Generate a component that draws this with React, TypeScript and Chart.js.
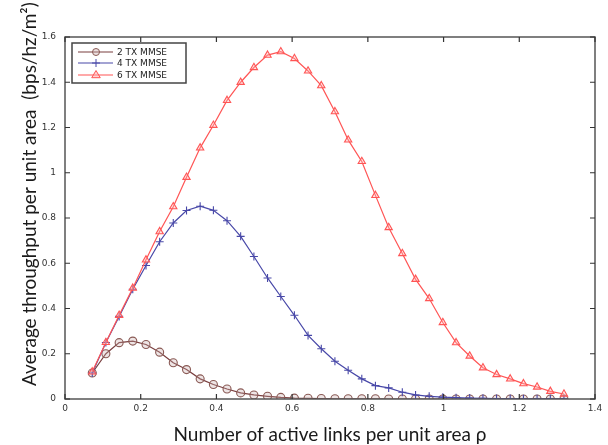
import React, { useEffect, useRef } from "react";
import { Chart, registerables } from "chart.js";

Chart.register(...registerables);

const xValues = [
  0.072, 0.108, 0.143, 0.179, 0.214, 0.25, 0.286, 0.321, 0.357, 0.392, 0.428, 0.464,
  0.499, 0.535, 0.57, 0.606, 0.642, 0.677, 0.713, 0.748, 0.784, 0.82, 0.855, 0.891,
  0.926, 0.962, 0.998, 1.033, 1.069, 1.104, 1.14, 1.176, 1.211, 1.247, 1.282, 1.318,
];

const tx2 = [
  0.115, 0.2, 0.249, 0.256, 0.241, 0.207, 0.16, 0.13, 0.089, 0.064, 0.044, 0.027,
  0.018, 0.012, 0.007, 0.004, 0.003, 0.002, 0.001, 0.001, 0.001, 0.001, 0.0, 0.0,
  0.0, 0.0, 0.0, 0.0, 0.0, 0.0, 0.0, 0.0, 0.0, 0.0, 0.0, 0.0,
];

const tx4 = [
  0.115, 0.25, 0.365, 0.485, 0.59, 0.695, 0.778, 0.833, 0.852, 0.834, 0.788, 0.719,
  0.63, 0.535, 0.453, 0.37, 0.281, 0.222, 0.167, 0.127, 0.089, 0.059, 0.049, 0.03,
  0.018, 0.012, 0.008, 0.006, 0.004, 0.003, 0.002, 0.002, 0.001, 0.001, 0.001, 0.001,
];

const tx6 = [
  0.12, 0.25, 0.37, 0.49, 0.615, 0.74, 0.85, 0.98, 1.11, 1.21, 1.32, 1.4,
  1.465, 1.52, 1.535, 1.505, 1.45, 1.385, 1.27, 1.145, 1.05, 0.9, 0.758, 0.643,
  0.529, 0.444, 0.338, 0.249, 0.19, 0.138, 0.108, 0.089, 0.068, 0.053, 0.034, 0.022,
];

const seriesNames = ["2 TX MMSE", "4 TX MMSE", "6 TX MMSE"];

const xTickValues = [0, 0.2, 0.4, 0.6, 0.8, 1, 1.2, 1.4];
const xTickLabels = ["0", "0.2", "0.4", "0.6", "0.8", "1", "1.2", "1.4"];
const yTickValues = [0, 0.2, 0.4, 0.6, 0.8, 1, 1.2, 1.4, 1.6];
const yTickLabels = ["0", "0.2", "0.4", "0.6", "0.8", "1", "1.2", "1.4", "1.6"];

const xTitle = "Number of active links per unit area \u03c1";
const yTitle = "Average throughput per unit area  (bps/hz/m\u00b2)";

const COLORS = {
  tx2: "#7a3f3f",
  tx2Point: "#8a5a55",
  tx4: "#4848a8",
  tx6: "#ff5555",
};

function drawMarker(ctx: CanvasRenderingContext2D, style: string, x: number, y: number, r: number, stroke: string, fill: string) {
  ctx.save();
  ctx.strokeStyle = stroke;
  ctx.fillStyle = fill;
  ctx.lineWidth = 1;
  ctx.beginPath();
  if (style === "circle") {
    ctx.arc(x, y, r, 0, Math.PI * 2);
    ctx.fill();
    ctx.stroke();
  } else if (style === "cross") {
    ctx.moveTo(x - r, y);
    ctx.lineTo(x + r, y);
    ctx.moveTo(x, y - r);
    ctx.lineTo(x, y + r);
    ctx.stroke();
  } else {
    ctx.moveTo(x, y - r);
    ctx.lineTo(x + r * 0.95, y + r * 0.6);
    ctx.lineTo(x - r * 0.95, y + r * 0.6);
    ctx.closePath();
    ctx.fill();
    ctx.stroke();
  }
  ctx.restore();
}

const decorPlugin = {
  id: "decor",
  afterDraw(chart: any) {
    const { ctx, chartArea } = chart;
    const { left, right, top, bottom } = chartArea;
    const xs = chart.scales.x;
    const ys = chart.scales.y;
    ctx.save();
    // box
    ctx.strokeStyle = "#555";
    ctx.lineWidth = 1.5;
    ctx.strokeRect(left, top, right - left, bottom - top);
    // inward ticks
    ctx.lineWidth = 1.2;
    ctx.strokeStyle = "#333";
    const tl = 5;
    ctx.beginPath();
    xTickValues.forEach((v) => {
      const px = xs.getPixelForValue(v);
      ctx.moveTo(px, bottom);
      ctx.lineTo(px, bottom - tl);
      ctx.moveTo(px, top);
      ctx.lineTo(px, top + tl);
    });
    yTickValues.forEach((v) => {
      const py = ys.getPixelForValue(v);
      ctx.moveTo(left, py);
      ctx.lineTo(left + tl, py);
      ctx.moveTo(right, py);
      ctx.lineTo(right - tl, py);
    });
    ctx.stroke();

    // legend
    const lx = 72, ly = 43, lw = 114, lh = 40;
    ctx.fillStyle = "#fff";
    ctx.fillRect(lx, ly, lw, lh);
    ctx.strokeStyle = "#444";
    ctx.lineWidth = 1.5;
    ctx.strokeRect(lx, ly, lw, lh);
    const rows = [52, 63, 75];
    const styles = [
      { line: COLORS.tx2, pstroke: COLORS.tx2Point, fill: "rgba(200,170,170,0.35)", ps: "circle", r: 3.5 },
      { line: COLORS.tx4, pstroke: COLORS.tx4, fill: COLORS.tx4, ps: "cross", r: 4 },
      { line: COLORS.tx6, pstroke: COLORS.tx6, fill: "rgba(255,170,170,0.5)", ps: "triangle", r: 4.5 },
    ];
    ctx.font = "9px 'DejaVu Sans', sans-serif";
    ctx.textBaseline = "middle";
    ctx.textAlign = "left";
    rows.forEach((ry, i) => {
      const s = styles[i];
      ctx.strokeStyle = s.line;
      ctx.lineWidth = 1.2;
      ctx.beginPath();
      ctx.moveTo(78, ry);
      ctx.lineTo(113, ry);
      ctx.stroke();
      drawMarker(ctx, s.ps, 96, ry, s.r, s.pstroke, s.fill);
      ctx.fillStyle = "#222";
      ctx.fillText(seriesNames[i], 117, ry + 0.5);
    });

    // axis titles
    ctx.fillStyle = "#1a1a1a";
    ctx.font = "19px Lato, 'Open Sans', sans-serif";
    ctx.textAlign = "center";
    ctx.textBaseline = "middle";
    ctx.fillText(xTitle, (left + right) / 2, 435);

    ctx.save();
    ctx.translate(30, 386);
    ctx.rotate(-Math.PI / 2);
    ctx.textAlign = "left";
    ctx.fillText(yTitle, 0, 0);
    ctx.restore();

    ctx.restore();
  },
};

export default function App() {
  const canvasRef = useRef<HTMLCanvasElement | null>(null);

  useEffect(() => {
    document.body.style.margin = "0";
    const canvas = canvasRef.current;
    if (!canvas) return;
    const mk = (arr: number[]) => xValues.map((x, i) => ({ x, y: arr[i] }));
    const chart = new Chart(canvas, {
      type: "line",
      data: {
        datasets: [
          {
            label: seriesNames[0],
            data: mk(tx2),
            borderColor: COLORS.tx2,
            borderWidth: 1.2,
            pointStyle: "circle",
            pointRadius: 4,
            pointBorderColor: COLORS.tx2Point,
            pointBackgroundColor: "rgba(200,170,170,0.3)",
            pointBorderWidth: 1.1,
            order: 3,
          },
          {
            label: seriesNames[1],
            data: mk(tx4),
            borderColor: COLORS.tx4,
            borderWidth: 1.2,
            pointStyle: "cross",
            pointRadius: 4,
            pointBorderColor: COLORS.tx4,
            pointBorderWidth: 1.1,
            order: 2,
          },
          {
            label: seriesNames[2],
            data: mk(tx6),
            borderColor: COLORS.tx6,
            borderWidth: 1.2,
            pointStyle: "triangle",
            pointRadius: 4.2,
            pointBorderColor: COLORS.tx6,
            pointBackgroundColor: "rgba(255,180,180,0.35)",
            pointBorderWidth: 1.1,
            order: 1,
          },
        ],
      },
      options: {
        animation: false,
        responsive: false,
        layout: { padding: { top: 37, right: 13, left: 0, bottom: 0 } },
        plugins: {
          legend: { display: false },
          tooltip: { enabled: false },
          title: { display: false },
        },
        scales: {
          x: {
            type: "linear",
            min: 0,
            max: 1.4,
            grid: { display: false, drawTicks: false },
            border: { display: false },
            afterBuildTicks: (scale: any) => {
              scale.ticks = xTickValues.map((v) => ({ value: v }));
            },
            afterFit: (scale: any) => {
              scale.height = 46;
            },
            ticks: {
              padding: 4,
              maxRotation: 0,
              autoSkip: false,
              color: "#333",
              font: { size: 9, family: "'DejaVu Sans', sans-serif" },
              callback: (_v: any, i: number) => xTickLabels[i],
            },
          },
          y: {
            type: "linear",
            min: 0,
            max: 1.6,
            grid: { display: false, drawTicks: false },
            border: { display: false },
            afterBuildTicks: (scale: any) => {
              scale.ticks = yTickValues.map((v) => ({ value: v }));
            },
            afterFit: (scale: any) => {
              scale.width = 65;
            },
            ticks: {
              padding: 9,
              autoSkip: false,
              color: "#333",
              font: { size: 9, family: "'DejaVu Sans', sans-serif" },
              callback: (_v: any, i: number) => yTickLabels[i],
            },
          },
        },
      },
      plugins: [decorPlugin],
    });
    return () => chart.destroy();
  }, []);

  return (
    <div style={{ width: 608, height: 445 }}>
      <canvas ref={canvasRef} width={608} height={445} />
    </div>
  );
}
